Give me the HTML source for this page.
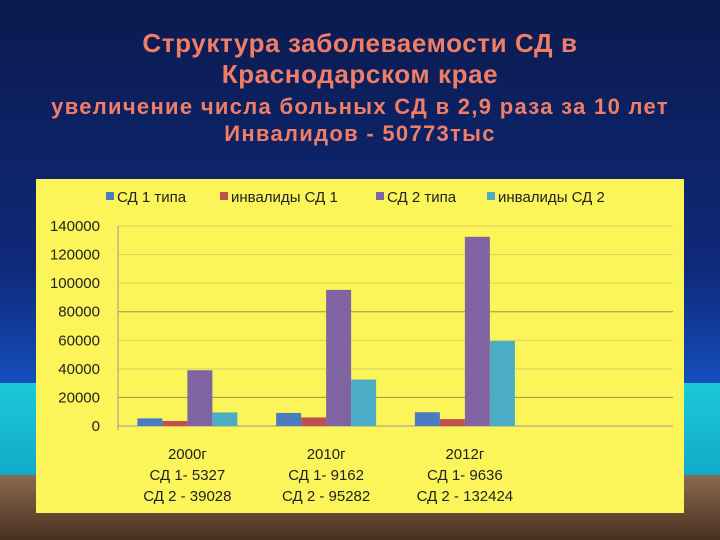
<!DOCTYPE html>
<html><head><meta charset="utf-8"><style>
body{margin:0;width:720px;height:540px;overflow:hidden;position:relative;font-family:"Liberation Sans","DejaVu Sans",sans-serif;
background:linear-gradient(#0b1a4e 0%,#0e2a7a 50%,#1450c0 72%);}
.t{position:absolute;left:0;width:720px;text-align:center;color:#f07e66;font-weight:bold;white-space:nowrap}
</style></head><body>
<div style="position:absolute;left:0;top:383px;width:720px;height:100px;background:linear-gradient(#1cc8d8,#10a8c8)"></div>
<div style="position:absolute;left:0;top:475px;width:720px;height:65px;background:linear-gradient(#8a6a50,#4a3020)"></div>
<div class="t" style="top:28px;font-size:26px;letter-spacing:0.6px">Структура заболеваемости СД в</div>
<div class="t" style="top:59px;font-size:26px;letter-spacing:0.6px">Краснодарском крае</div>
<div class="t" style="top:94px;font-size:22px;letter-spacing:1.3px">увеличение числа больных СД в 2,9 раза за 10 лет</div>
<div class="t" style="top:121px;font-size:22px;letter-spacing:1.3px">Инвалидов - 50773тыс</div>
<svg style="position:absolute;left:0;top:0" width="720" height="540" id="c"></svg>
<script>
const categories=["2000г","2010г","2012г",""];
const catLine2=["СД 1- 5327","СД 1- 9162","СД 1- 9636",""];
const catLine3=["СД 2 - 39028","СД 2 - 95282","СД 2 - 132424",""];
const seriesNames=["СД 1 типа","инвалиды СД 1","СД 2 типа","инвалиды СД 2"];
const sd1=[5327,9162,9636,0];
const inv1=[3500,6000,4800,0];
const sd2=[39028,95282,132424,0];
const inv2=[9500,32500,59500,0];
const ticks=[0,20000,40000,60000,80000,100000,120000,140000];
const colors=["#4a7cc0","#c0504d","#8064a2","#4bacc6"];
const NS="http://www.w3.org/2000/svg",svg=document.getElementById('c');
function mk(t,a,txt){const e=document.createElementNS(NS,t);for(const k in a)e.setAttribute(k,a[k]);if(txt!==undefined)e.textContent=txt;svg.appendChild(e);return e;}
const x0=118,x1=673,y0=426,yTop=226,vmax=140000;
const Y=v=>y0-(v/vmax)*(y0-yTop);
const slot=(x1-x0)/categories.length;
let e=mk('rect',{x:36,y:179,width:648,height:334,fill:'#fcf55a'});

ticks.forEach(t=>{
 let g=mk('line',{x1:x0,x2:x1,y1:Y(t),y2:Y(t),stroke:(t===20000||t===80000)?'#9a9450':'#d8d060','stroke-width':1});
 
 let l=mk('text',{x:100,y:Y(t)+5,'text-anchor':'end','font-size':15,fill:'#222'},String(t));
 
});
e=mk('line',{x1:x0,x2:x0,y1:yTop,y2:y0+4,stroke:'#999'});
e=mk('line',{x1:x0,x2:x1,y1:y0,y2:y0,stroke:'#999'});
const series=[sd1,inv1,sd2,inv2];
const bw=25;
categories.forEach((c,i)=>{
 const cx=x0+slot*(i+0.5);
 series.forEach((s,j)=>{
  if(!s[i])return;
  const bx=cx-2*bw+j*bw;
  let b=mk('rect',{x:bx,y:Y(s[i]),width:bw,height:y0-Y(s[i]),fill:colors[j]});
  
 });
 [categories[i],catLine2[i],catLine3[i]].forEach((t,k)=>{
  let l=mk('text',{x:cx,y:459+k*21,'text-anchor':'middle','font-size':15,fill:'#222'},t);
  
 });
});
const lx=[106,220,376,487];
seriesNames.forEach((n,j)=>{
 let r=mk('rect',{x:lx[j],y:192,width:8,height:8,fill:colors[j]});
 
 let t=mk('text',{x:lx[j]+11,y:202,'font-size':15,fill:'#222'},n);
 
});
</script>
</body></html>
